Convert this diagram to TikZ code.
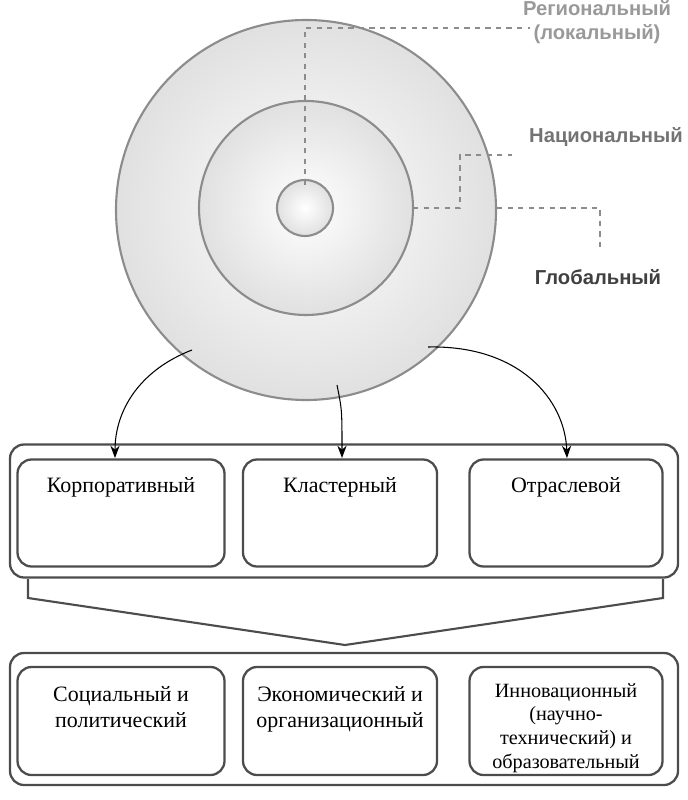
\documentclass[tikz,border=0pt]{standalone}
\usepackage{fontspec}
\setmainfont{Liberation Serif}
\newfontfamily\lblfont{Liberation Sans}
\usetikzlibrary{arrows.meta}
\begin{document}
\begin{tikzpicture}[x=0.02cm,y=-0.02cm,
  ring/.style={draw=black!45,line width=1.2pt,inner color=white,outer color=black!12},
  dsh/.style={draw=black!45,dashed,line width=1pt},
  lbl/.style={font=\lblfont\bfseries\fontsize{11.5}{13.5}\selectfont,align=center,inner sep=0pt},
  rbox/.style={draw=black!70,line width=1.3pt,rounded corners=8pt},
  txt/.style={font=\fontsize{12.5}{15}\selectfont,align=center},
  arr/.style={-{Stealth[length=7pt]},line width=0.6pt}]
\useasboundingbox (0,0) rectangle (687,800);
\shade[ring] (306,210) circle (190);
\shade[ring] (306,208) circle (107);
\shade[ring] (305,208) circle (28);
\coordinate (c1) at (305,185);
\coordinate (c2) at (413,208);
\coordinate (c3) at (497,208);
\draw[dsh] (c1) -- (305,28) -- (530,28);
\draw[dsh] (c2) -- (460,208) -- (460,155) -- (512,155);
\draw[dsh] (c3) -- (600,208) -- (600,252);
\node[lbl,text=black!40] (r) at (597,22) {Региональный\\(локальный)};
\node[lbl,text=black!55] (n) at (606,137) {Национальный};
\node[lbl,text=black!75] (g) at (598,277) {Глобальный};
\node[rbox,minimum width=668*0.02cm,minimum height=133*0.02cm] (B1) at (344,511) {};
\node[rbox,minimum width=207*0.02cm,minimum height=107*0.02cm] (k1) at (121,513) {};
\node[rbox,minimum width=194*0.02cm,minimum height=107*0.02cm] (k2) at (340,513) {};
\node[rbox,minimum width=193*0.02cm,minimum height=107*0.02cm] (k3) at (566,513) {};
\node[txt] at (121,487) {Корпоративный};
\node[txt] at (340,487) {Кластерный};
\node[txt] at (566,487) {Отраслевой};
\draw[draw=black!70,line width=1.2pt] (28,579) -- (28,598) -- (345,645) -- (663,598) -- (663,579);
\node[rbox,minimum width=668*0.02cm,minimum height=132*0.02cm] (B2) at (344,719) {};
\node[rbox,minimum width=207*0.02cm,minimum height=108*0.02cm] (m1) at (121,721) {};
\node[rbox,minimum width=194*0.02cm,minimum height=108*0.02cm] (m2) at (340,721) {};
\node[rbox,minimum width=193*0.02cm,minimum height=108*0.02cm] (m3) at (566,721) {};
\node[txt,anchor=north] at (121,680) {Социальный и\\политический};
\node[txt,anchor=north] at (340,680) {Экономический и\\организационный};
\node[txt,anchor=north,font=\fontsize{11.5}{13.5}\selectfont] at (566,677) {Инновационный\\(научно-\\технический) и\\образовательный};
\coordinate (a1) at (192,350);
\coordinate (a2) at (337,385);
\coordinate (a3) at (428,347);
\draw[arr] (a1) .. controls (140,370) and (115,410) .. (115,458);
\draw[arr] (a2) .. controls (342,410) .. (342,458);
\draw[arr] (a3) .. controls (520,345) and (565,400) .. (567,458);
\end{tikzpicture}
\end{document}
